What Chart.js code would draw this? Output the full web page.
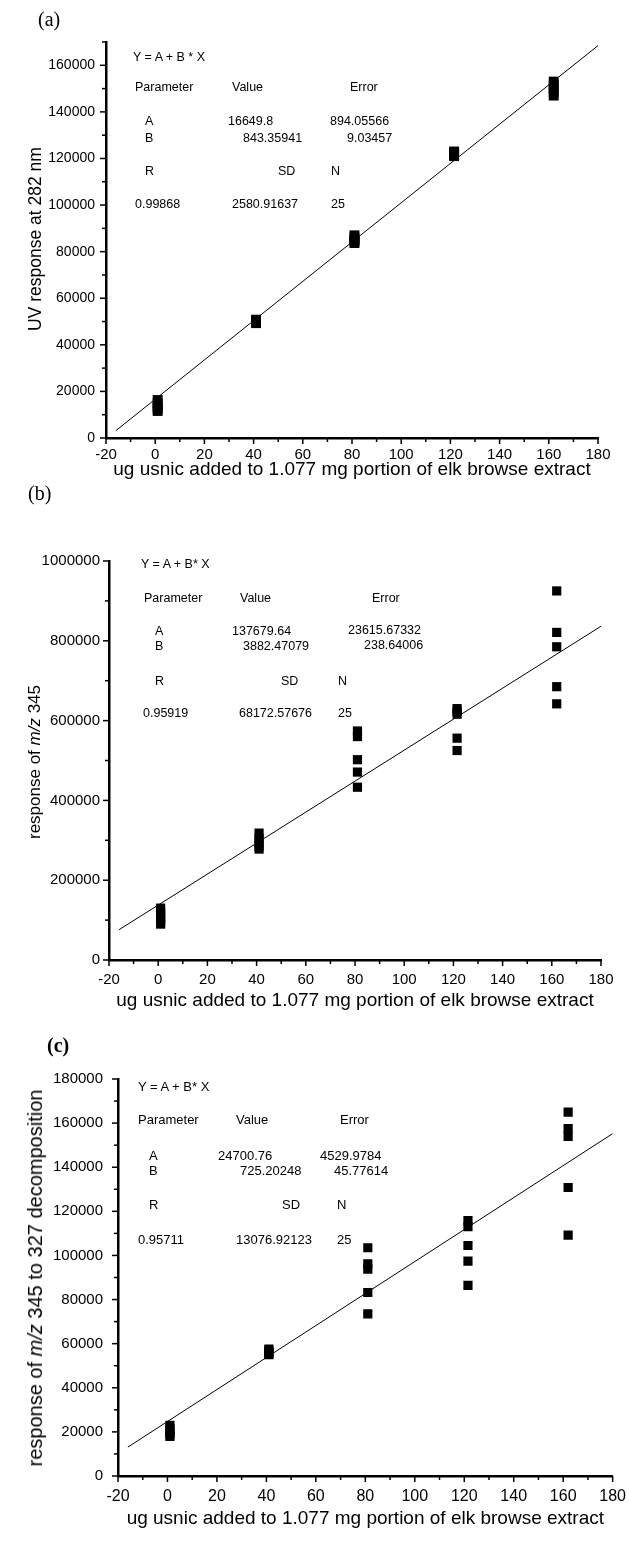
<!DOCTYPE html>
<html>
<head>
<meta charset="utf-8">
<script src="https://cdn.jsdelivr.net/npm/chart.js@4.4.1/dist/chart.umd.min.js"></script>
<style>
  html,body{margin:0;padding:0;background:#fff;}
  #page{position:relative;width:629px;height:1541px;overflow:hidden;background:#fff;font-family:"Liberation Sans",Arial,sans-serif;color:#000;}
  .panel{position:absolute;left:0;width:629px;}
  .panel canvas{display:block;}
  .ann{position:absolute;line-height:16px;white-space:pre;}
  .plabel{position:absolute;font-family:"Liberation Serif","Times New Roman",serif;font-size:20px;line-height:24px;}
  .ytitle{position:absolute;line-height:22px;white-space:nowrap;transform:translate(-50%,-50%) rotate(-90deg);}
</style>
</head>
<body>
<div id="page"></div>
<script>
// ---------------- DATA ----------------
const xLabelText = "ug usnic added to 1.077 mg portion of elk browse extract";

// Panel (a): UV response at 282 nm
const aX = [1,1,1,1,1, 41,41,41,41,41, 81,81,81,81,81, 121.5,121.5,121.5,121.5,121.5, 162,162,162,162,162];
const aY = [16300,15000,13500,12500,11600, 50800,50300,50000,49700,49300, 87000,86000,85000,84500,83700, 123000,122500,122000,121500,121000, 153000,151500,150000,148500,147000];
const aFitX = [-16, 180];
const aFitY = [3150, 168450];

// Panel (b): response of m/z 345
const bX = aX;
const bY = [130000,118000,108000,98000,90000, 318000,305000,295000,285000,278000, 574000,560000,502000,471000,433000, 630000,623000,616000,556000,525000, 925000,821000,785000,685000,642000];
const bFitX = [-16, 180];
const bFitY = [75560, 836500];

// Panel (c): response of m/z 345 to 327 decomposition
const cX = aX;
const cY = [23000,21500,20000,19000,18000, 57500,56800,56000,55500,55000, 103500,96200,93800,83200,73500, 115800,113000,104500,97400,86400, 165000,157500,154000,130800,109200];
const cFitX = [-16, 180];
const cFitY = [13100, 155240];

// Tick settings (labels every major step, minor ticks between)
const xTicks = {min:-20, max:180, minor:10, major:20};
const aTicks = {min:0, max:170000, minor:10000, major:20000};
const bTicks = {min:0, max:1000000, minor:100000, major:200000};
const cTicks = {min:0, max:180000, minor:10000, major:20000};

// Fit-result text blocks
const aAnn = ["Y = A + B * X","Parameter","Value","Error","A","16649.8","894.05566","B","843.35941","9.03457","R","SD","N","0.99868","2580.91637","25"];
const bAnn = ["Y = A + B* X","Parameter","Value","Error","A","137679.64","23615.67332","B","3882.47079","238.64006","R","SD","N","0.95919","68172.57676","25"];
const cAnn = ["Y = A + B* X","Parameter","Value","Error","A","24700.76","4529.9784","B","725.20248","45.77614","R","SD","N","0.95711","13076.92123","25"];

// ---------------- LAYOUT ----------------
const annPosA = [[133,57],[135,87],[232,87],[350,87],[145,121],[228,121],[330,121],[145,138],[243,138],[347,138],[145,171],[278,171],[331,171],[135,204],[232,204],[331,204]];
const annPosB = [[141,564],[144,598],[240,598],[372,598],[155,631],[232,631],[348,630],[155,646],[243,646],[364,645],[155,681],[281,681],[338,681],[143,713],[239,713],[338,713]];
const annPosC = [[138,1087],[138,1120],[236,1120],[340,1120],[149,1156],[218,1156],[320,1156],[149,1171],[240,1171],[334,1171],[149,1205],[282,1205],[337,1205],[138,1240],[236,1240],[337,1240]];

const panels = [
  {id:'a', top:0, height:481, left:106, right:598, plotTop:42, axisY:438, yT:aTicks, xs:aX, ys:aY, fx:aFitX, fy:aFitY, r:7,
   yFont:14, yPad:3, xFont:15, xPad:0, titleFont:19,
   label:'(a)', lx:38, ly:19, ytitle:'UV response at 282 nm', ytFont:17.5, ytx:35, yty:239, ann:aAnn, annPos:annPosA, annFont:12.5},
  {id:'b', top:492, height:520, left:109, right:601, plotTop:561, axisY:960, yT:bTicks, xs:bX, ys:bY, fx:bFitX, fy:bFitY, r:6.5,
   yFont:15, yPad:1, xFont:15, xPad:3, titleFont:19,
   label:'(b)', lx:28, ly:493, ytitle:'response of <i>m/z</i> 345', ytFont:17, ytx:35, yty:762, ann:bAnn, annPos:annPosB, annFont:12.5},
  {id:'c', top:1020, height:510, left:118, right:616, plotTop:1079, axisY:1476, yT:cTicks, xs:cX, ys:cY, fx:cFitX, fy:cFitY, r:6.5,
   yFont:15, yPad:7, xFont:16, xPad:3, titleFont:19,
   label:'(c)', lx:47, ly:1045, ytitle:'response of <i>m/z</i> 345 to 327 decomposition', ytFont:20, ytx:35, yty:1278, ann:cAnn, annPos:annPosC, annFont:13, bold:true}
];

const FONT = '"Liberation Sans", Arial, sans-serif';
const page = document.getElementById('page');

const minorTicks = {
  id:'minorTicks',
  afterDraw(chart, args, opts){
    const ctx = chart.ctx;
    ctx.save();
    ctx.strokeStyle = '#000';
    ctx.lineWidth = 1.5;
    const xs = chart.scales.x, ys = chart.scales.y;
    const ca = chart.chartArea;
    for (const t of xs.ticks){
      const v = t.value;
      const major = Math.abs(v % opts.xMajor) < 1e-9;
      const px = xs.getPixelForValue(v);
      const len = major ? 6 : 4;
      ctx.beginPath(); ctx.moveTo(px, ca.bottom); ctx.lineTo(px, ca.bottom + len); ctx.stroke();
    }
    for (const t of ys.ticks){
      const v = t.value;
      const major = Math.abs(v % opts.yMajor) < 1e-9;
      const py = ys.getPixelForValue(v);
      const len = major ? 6 : 4;
      ctx.beginPath(); ctx.moveTo(ca.left, py); ctx.lineTo(ca.left - len, py); ctx.stroke();
    }
    ctx.restore();
  }
};

panels.forEach(p => {
  const div = document.createElement('div');
  div.className = 'panel';
  div.style.top = p.top + 'px';
  div.style.height = p.height + 'px';
  const cv = document.createElement('canvas');
  cv.width = 629; cv.height = p.height;
  cv.style.width = '629px'; cv.style.height = p.height + 'px';
  div.appendChild(cv);
  page.appendChild(div);

  const scatter = p.xs.map((x,i)=>({x:x, y:p.ys[i]}));
  const fit = p.fx.map((x,i)=>({x:x, y:p.fy[i]}));
  const xAxisH = (p.top + p.height) - p.axisY;

  new Chart(cv, {
    type:'scatter',
    data:{datasets:[
      {data:scatter, pointStyle:'rect', pointRadius:p.r, pointHoverRadius:p.r, backgroundColor:'#000', borderColor:'#000', borderWidth:0, showLine:false},
      {data:fit, showLine:true, pointRadius:0, borderColor:'#000', borderWidth:1, fill:false}
    ]},
    options:{
      responsive:false, maintainAspectRatio:false, animation:false, devicePixelRatio:1,
      layout:{padding:{left:0, right:629 - p.right, top:p.plotTop - p.top, bottom:0}},
      plugins:{legend:{display:false}, tooltip:{enabled:false},
        minorTicks:{xMajor:xTicks.major, yMajor:p.yT.major}},
      scales:{
        x:{type:'linear', min:xTicks.min, max:xTicks.max,
           border:{display:true, color:'#000', width:2.5},
           grid:{display:false},
           ticks:{stepSize:xTicks.minor, autoSkip:false, maxRotation:0, padding:p.xPad, color:'#000',
                  font:{family:FONT, size:p.xFont},
                  callback:(v)=> (Math.abs(v % xTicks.major) < 1e-9 ? String(v) : '')},
           title:{display:true, text:xLabelText, color:'#000', font:{family:FONT, size:p.titleFont}, padding:{top:0,bottom:0}},
           afterFit:(s)=>{ s.height = xAxisH; }
        },
        y:{type:'linear', min:p.yT.min, max:p.yT.max,
           border:{display:true, color:'#000', width:2.5},
           grid:{display:false},
           ticks:{stepSize:p.yT.minor, autoSkip:false, padding:p.yPad, color:'#000',
                  font:{family:FONT, size:p.yFont},
                  callback:(v)=> (Math.abs(v % p.yT.major) < 1e-9 ? String(v) : '')},
           afterFit:(s)=>{ s.width = p.left; }
        }
      }
    },
    plugins:[minorTicks]
  });

  // panel label
  const lab = document.createElement('div');
  lab.className='plabel'; lab.textContent=p.label;
  lab.style.left=p.lx+'px'; lab.style.top=(p.ly-12)+'px';
  if (p.bold) lab.style.fontWeight='bold';
  page.appendChild(lab);

  // y title
  const yt = document.createElement('div');
  yt.className='ytitle'; yt.innerHTML=p.ytitle;
  yt.style.fontSize=p.ytFont+'px';
  yt.style.left=p.ytx+'px'; yt.style.top=p.yty+'px';
  page.appendChild(yt);

  // annotation texts
  p.ann.forEach((t,i)=>{
    const s = document.createElement('div');
    s.className='ann'; s.textContent=t;
    s.style.fontSize=p.annFont+'px';
    s.style.left=p.annPos[i][0]+'px'; s.style.top=(p.annPos[i][1]-8)+'px';
    page.appendChild(s);
  });
});
</script>
</body>
</html>
